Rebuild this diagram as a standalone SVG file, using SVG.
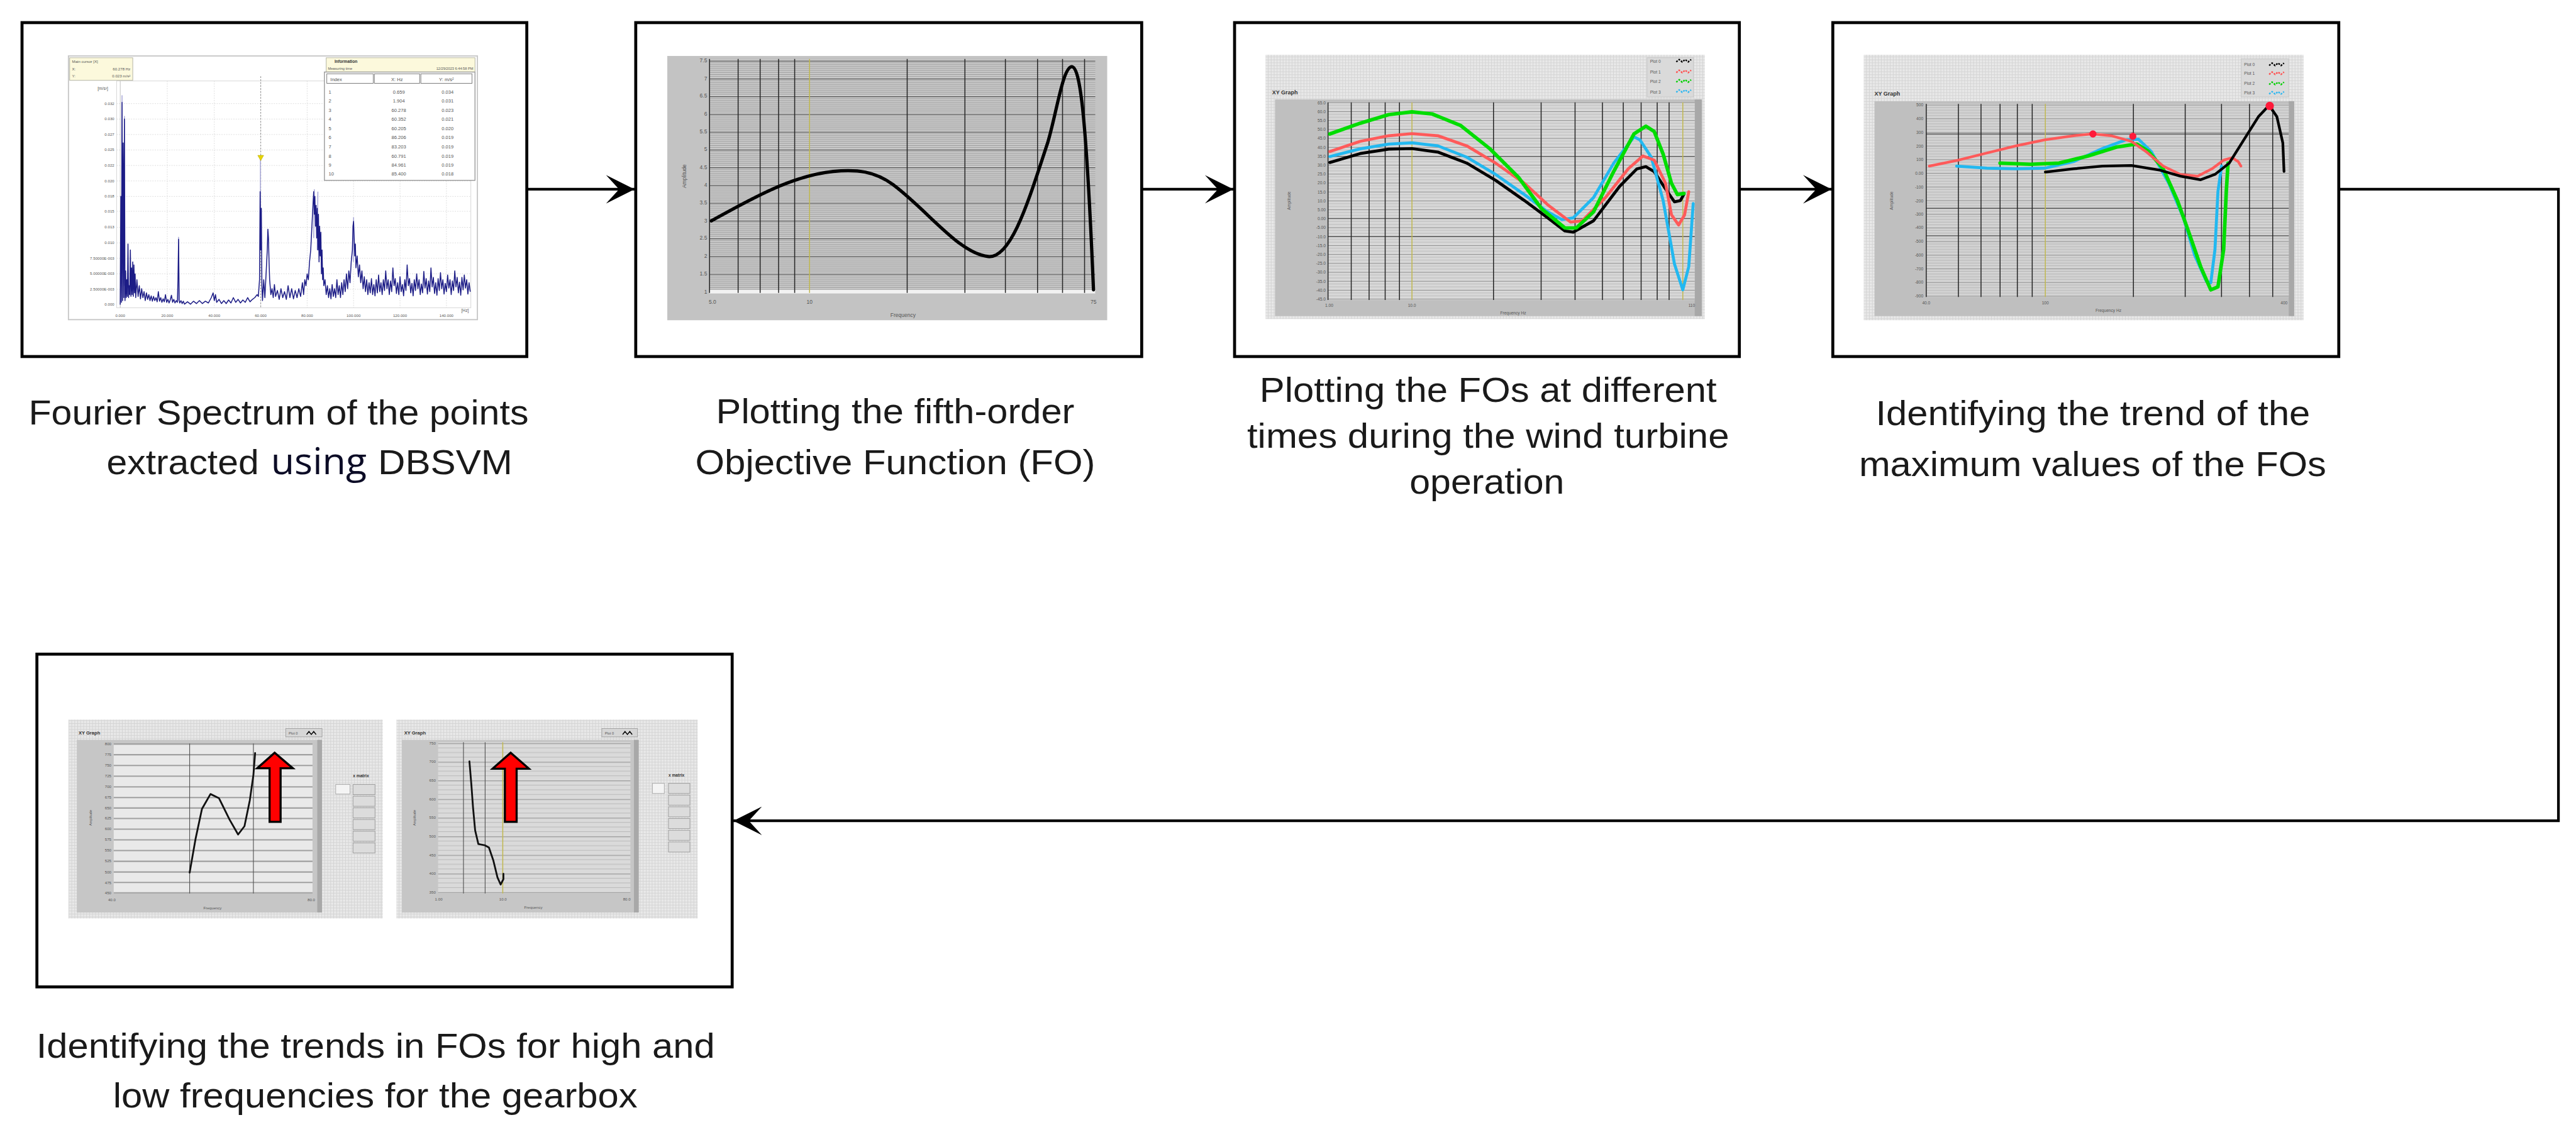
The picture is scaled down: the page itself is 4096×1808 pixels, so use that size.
<svg xmlns="http://www.w3.org/2000/svg" width="4096" height="1808" viewBox="0 0 4096 1808">
<defs>
<style>
.box{fill:#fff;stroke:#000;stroke-width:5}
.conn{fill:none;stroke:#000;stroke-width:4.5}
.lbl{font-family:"Liberation Sans",Arial,Helvetica,sans-serif;font-size:59px;fill:#1a1a1a}
.tn{font-family:"Liberation Sans",Arial,sans-serif;fill:#555}
.tb{font-family:"Liberation Sans",Arial,sans-serif;fill:#333;font-weight:bold}
.vg{stroke:#262626;stroke-width:1.6}
.vy{stroke:#c0b850;stroke-width:1.6}
.hd{stroke:#555;stroke-width:1.4}
.fo{fill:none;stroke-linejoin:round;stroke-linecap:round}
.cell{fill:#dcdcdc;stroke:#9a9a9a;stroke-width:1}
.red{fill:#ff0000;stroke:#000;stroke-width:3.5;stroke-linejoin:miter}
</style>
<marker id="ah" markerUnits="userSpaceOnUse" markerWidth="50" markerHeight="48" viewBox="0 0 50 48" refX="48" refY="24" orient="auto">
<path d="M0,0 L48,24 L0,48 L22,24 Z" fill="#000"/>
</marker>
<pattern id="lv" width="5" height="5" patternUnits="userSpaceOnUse">
<rect width="5" height="5" fill="#e8e8e8"/><path d="M0,0.5H5M0.5,0V5" stroke="#d4d4d4" stroke-width="1"/>
</pattern>
<pattern id="p2" x="0" y="102" width="20" height="29.85" patternUnits="userSpaceOnUse">
<rect width="20" height="29.85" fill="#cbcbcb"/>
<path d="M0,3.3H20M0,6.6H20M0,10H20M0,13.3H20M0,16.6H20M0,19.9H20M0,23.2H20M0,26.5H20" stroke="#929292" stroke-width="0.9"/>
<path d="M0,0.6H20" stroke="#4e4e4e" stroke-width="1.3"/>
</pattern>
<pattern id="p3" x="0" y="172" width="20" height="15" patternUnits="userSpaceOnUse">
<rect width="20" height="15" fill="#d8d8d8"/>
<path d="M0,5H20M0,10H20" stroke="#b4b4b4" stroke-width="0.9"/>
<path d="M0,0.5H20" stroke="#888" stroke-width="1"/>
</pattern>
<pattern id="p4" x="0" y="176" width="20" height="22.93" patternUnits="userSpaceOnUse">
<rect width="20" height="22.93" fill="#d3d3d3"/>
<path d="M0,4.6H20M0,9.2H20M0,13.8H20M0,18.3H20" stroke="#b0b0b0" stroke-width="0.9"/>
<path d="M0,0.5H20" stroke="#888" stroke-width="1"/>
</pattern>
<pattern id="p5" x="0" y="1248.6" width="20" height="31.3" patternUnits="userSpaceOnUse">
<rect width="20" height="31.3" fill="#dadada"/>
<path d="M0,7.8H20M0,15.6H20M0,23.5H20" stroke="#b9b9b9" stroke-width="1.2"/>
<path d="M0,0.6H20" stroke="#999" stroke-width="1.4"/>
</pattern>
</defs>
<rect x="0" y="0" width="4096" height="1808" fill="#fff"/>
<g transform="scale(0.9465)">

<!-- ============ NODE 1 ============ -->
<g id="node-1">
<rect class="box" x="37" y="38" width="848" height="561"/>
<g id="chart-1">
<rect x="115" y="94" width="687" height="443" fill="#fff" stroke="#c8c8c8" stroke-width="2"/>
<rect x="196" y="136" width="595" height="381" fill="#fff" stroke="#d6d6d6" stroke-width="1"/>
<g stroke="#dcdcdc" stroke-width="1" stroke-dasharray="2,2">
<path d="M281,136V517M360,136V517M516,136V517M594,136V517M672,136V517M750,136V517"/>
<path d="M196,174H791M196,200H791M196,226H791M196,252H791M196,278H791M196,304H791M196,330H791M196,355H791M196,382H791M196,408H791M196,434H791M196,460H791M196,486H791"/>
</g>
<path d="M202,136V517" stroke="#bbb" stroke-width="1"/>
<path d="M438,128V517" stroke="#999" stroke-width="1.2" stroke-dasharray="3,2"/>
<path d="M205,500L205,160M209,480L209,195M437.5,420L437.5,262M300,505L300,398M594,440L594,365M527,400L528,318M533,420L534,322" stroke="#a8a8d8" stroke-width="1.6" fill="none"/>
<path fill="none" stroke="#1c1c86" stroke-width="1.6" stroke-linejoin="round" d="M202,512 L203,330 L204,508 L205,172 L206,505 L207,240 L208,500 L209,200 L210,505 L211,455 L212,500 L213,470 L214,498 L215,410 L216,500 L217,480 L218,495 L219,420 L220,498 L221,450 L222,495 L223,440 L224,498 L225,445 L226,492 L227,460 L228,500 L230,470 L232,498 L234,480 L236,502 L238,485 L240,500 L242,490 L244,505 L246,492 L248,503 L250,495 L252,505 L254,497 L256,506 L258,498 L260,505 L262,500 L264,507 L266,490 L268,506 L270,500 L272,508 L274,502 L276,507 L278,495 L280,508 L282,503 L284,509 L286,504 L288,496 L290,508 L292,503 L294,509 L296,505 L298,508 L299,470 L300,402 L301,505 L302,509 L304,505 L306,510 L308,506 L310,511 L315,507 L320,511 L325,506 L330,510 L335,505 L340,510 L345,506 L350,509 L355,500 L358,492 L360,505 L362,495 L364,508 L368,503 L372,510 L376,505 L380,510 L384,504 L388,509 L392,500 L396,508 L400,503 L404,509 L408,504 L412,508 L416,500 L420,507 L424,503 L428,500 L432,495 L434,498 L436,470 L437,322 L438,420 L439,350 L440,480 L441,505 L443,470 L445,500 L447,460 L449,420 L450,385 L451,400 L452,440 L453,470 L455,495 L457,485 L459,500 L461,478 L463,498 L466,488 L469,503 L472,485 L475,500 L478,490 L481,503 L484,480 L487,500 L490,485 L493,502 L496,488 L499,500 L502,485 L505,498 L508,475 L510,495 L512,470 L514,480 L516,460 L518,470 L520,440 L522,420 L524,380 L526,340 L527,322 L528,360 L529,330 L530,380 L531,345 L532,400 L533,350 L534,420 L535,360 L536,440 L537,380 L538,430 L539,390 L540,460 L541,420 L542,470 L543,450 L544,480 L546,470 L548,495 L550,480 L552,500 L554,485 L556,502 L558,478 L560,498 L562,485 L564,500 L566,470 L568,495 L570,480 L572,500 L574,475 L576,495 L578,470 L580,490 L582,460 L584,485 L586,455 L588,475 L590,440 L592,420 L593,380 L594,372 L595,400 L596,430 L597,410 L598,450 L600,430 L602,465 L604,445 L606,475 L608,455 L610,485 L612,465 L614,490 L616,470 L618,495 L620,475 L622,492 L624,468 L626,495 L628,478 L630,497 L632,470 L634,492 L636,462 L638,490 L640,475 L642,495 L644,470 L646,488 L648,455 L650,485 L652,470 L654,495 L656,472 L658,490 L660,450 L662,480 L664,468 L666,493 L668,475 L670,495 L672,465 L674,490 L676,478 L678,497 L680,470 L682,488 L684,445 L686,480 L688,468 L690,492 L692,476 L694,497 L696,470 L698,488 L700,460 L702,485 L704,470 L706,495 L708,477 L710,492 L712,456 L714,484 L716,468 L718,494 L720,472 L722,490 L724,450 L726,482 L728,466 L730,493 L732,475 L734,496 L736,468 L738,488 L740,458 L742,485 L744,470 L746,494 L748,476 L750,490 L752,462 L754,484 L756,470 L758,495 L760,472 L762,488 L764,455 L766,482 L768,466 L770,492 L772,474 L774,496 L776,466 L778,487 L780,462 L782,484 L784,470 L786,494 L788,475 L790,490"/>
<polygon points="433,261 443,261 438,270" fill="#e6d400" stroke="#b8a800" stroke-width="0.6"/>
<g class="tn" font-size="6.5" text-anchor="end">
<text x="192" y="176">0.032</text><text x="192" y="202">0.030</text><text x="192" y="228">0.027</text><text x="192" y="254">0.025</text><text x="192" y="280">0.022</text><text x="192" y="306">0.020</text><text x="192" y="332">0.018</text><text x="192" y="357">0.015</text><text x="192" y="384">0.013</text><text x="192" y="410">0.010</text><text x="192" y="436">7.50000E-003</text><text x="192" y="462">5.00000E-003</text><text x="192" y="488">2.50000E-003</text><text x="192" y="514">0.000</text>
</g>
<text class="tn" font-size="7" x="164" y="151">[m/s²]</text>
<g class="tn" font-size="6.5" text-anchor="middle">
<text x="202" y="533">0.000</text><text x="281" y="533">20.000</text><text x="360" y="533">40.000</text><text x="438" y="533">60.000</text><text x="516" y="533">80.000</text><text x="594" y="533">100.000</text><text x="672" y="533">120.000</text><text x="750" y="533">140.000</text>
</g>
<text class="tn" font-size="7" x="775" y="524">[Hz]</text>
<rect x="117" y="97" width="106" height="38" fill="#fcf9dc" stroke="#b0b0a0" stroke-width="1"/>
<g class="tn" font-size="6.5" fill="#444">
<text x="121" y="106">Main cursor [X]</text>
<text x="121" y="118">X:</text><text x="219" y="118" text-anchor="end">60.278 Hz</text>
<text x="121" y="130">Y:</text><text x="219" y="130" text-anchor="end">0.023 m/s²</text>
</g>
<rect x="548" y="97" width="250" height="24" fill="#fcf9dc" stroke="#b0b0a0" stroke-width="1"/>
<text class="tb" font-size="7" x="562" y="106">Information</text>
<text class="tn" font-size="6" x="551" y="117">Measuring time</text>
<text class="tn" font-size="6" x="795" y="117" text-anchor="end">12/29/2023 6:44:58 PM</text>
<rect x="545" y="121" width="253" height="182" fill="#fff" stroke="#9a9a9a" stroke-width="1.5"/>
<g fill="#fff" stroke="#777" stroke-width="1">
<rect x="549" y="124" width="78" height="16"/><rect x="629" y="124" width="76" height="16"/><rect x="707" y="124" width="86" height="16"/>
</g>
<g class="tn" font-size="8" fill="#333">
<text x="555" y="136">Index</text><text x="667" y="136" text-anchor="middle">X: Hz</text><text x="750" y="136" text-anchor="middle">Y: m/s²</text>
</g>
<g class="tn" font-size="8" fill="#333">
<text x="552" y="157">1</text><text x="552" y="172">2</text><text x="552" y="188">3</text><text x="552" y="203">4</text><text x="552" y="219">5</text><text x="552" y="234">6</text><text x="552" y="249">7</text><text x="552" y="265">8</text><text x="552" y="280">9</text><text x="552" y="295">10</text>
</g>
<g class="tn" font-size="8" fill="#333" text-anchor="middle">
<text x="670" y="157">0.659</text><text x="670" y="172">1.904</text><text x="670" y="188">60.278</text><text x="670" y="203">60.352</text><text x="670" y="219">60.205</text><text x="670" y="234">86.206</text><text x="670" y="249">83.203</text><text x="670" y="265">60.791</text><text x="670" y="280">84.961</text><text x="670" y="295">85.400</text>
<text x="752" y="157">0.034</text><text x="752" y="172">0.031</text><text x="752" y="188">0.023</text><text x="752" y="203">0.021</text><text x="752" y="219">0.020</text><text x="752" y="234">0.019</text><text x="752" y="249">0.019</text><text x="752" y="265">0.019</text><text x="752" y="280">0.019</text><text x="752" y="295">0.018</text>
</g>
</g>
<text class="lbl" x="48" y="713" textLength="840" lengthAdjust="spacingAndGlyphs">Fourier Spectrum of the points</text>
<text class="lbl" x="179" y="797" textLength="256" lengthAdjust="spacingAndGlyphs">extracted</text>
<text x="455" y="797" textLength="161" lengthAdjust="spacingAndGlyphs" style="font-family:'Open Sans',Lato,sans-serif;font-size:62px;fill:#0c0c26">using</text>
<text class="lbl" x="635" y="797" textLength="226" lengthAdjust="spacingAndGlyphs">DBSVM</text>
</g>

<!-- ============ NODE 2 ============ -->
<g id="node-2">
<rect class="box" x="1068" y="38" width="850" height="561"/>
<g id="chart-2">
<rect x="1121" y="94" width="739" height="444" fill="#c3c3c3"/>
<rect x="1192" y="99" width="648" height="393" fill="url(#p2)"/>
<rect x="1192" y="487" width="648" height="6" fill="#f2f2f2"/>
<path class="vg" d="M1192,99V492M1240,99V492M1277,99V492M1308,99V492M1335,99V492M1524,99V492M1621,99V492M1689,99V492M1743,99V492M1785,99V492M1822,99V492"/>
<path class="vy" d="M1360,99V492"/>
<g class="tn" font-size="9" text-anchor="end" fill="#555">
<text x="1188" y="105">7.5</text><text x="1188" y="135">7</text><text x="1188" y="164">6.5</text><text x="1188" y="194">6</text><text x="1188" y="224">5.5</text><text x="1188" y="254">5</text><text x="1188" y="284">4.5</text><text x="1188" y="314">4</text><text x="1188" y="343">3.5</text><text x="1188" y="374">3</text><text x="1188" y="403">2.5</text><text x="1188" y="433">2</text><text x="1188" y="463">1.5</text><text x="1188" y="493">1</text>
</g>
<text class="tn" font-size="9" fill="#56648a" text-anchor="middle" transform="rotate(-90 1153 296)" x="1153" y="296">Amplitude</text>
<g class="tn" font-size="9" text-anchor="middle">
<text x="1197" y="510">5.0</text><text x="1360" y="510">10</text><text x="1837" y="510">75</text>
<text x="1517" y="532">Frequency</text>
</g>
<path class="fo" stroke="#000" stroke-width="5.5" d="M1195,371 C1260,335 1330,295 1400,288 C1440,284 1470,288 1500,310 C1560,355 1610,425 1660,431 C1700,435 1730,330 1760,240 C1775,190 1785,115 1800,112 C1815,110 1825,200 1837,487"/>
</g>
<text class="lbl" x="1203" y="711" textLength="602" lengthAdjust="spacingAndGlyphs">Plotting the fifth-order</text>
<text class="lbl" x="1168" y="797" textLength="672" lengthAdjust="spacingAndGlyphs">Objective Function (FO)</text>
</g>

<!-- ============ NODE 3 ============ -->
<g id="node-3">
<rect class="box" x="2074" y="38" width="848" height="561"/>
<g id="chart-3">
<rect x="2126" y="92" width="738" height="444" fill="url(#lv)"/>
<text class="tb" font-size="9.5" x="2137" y="158">XY Graph</text>
<rect x="2767" y="97" width="78" height="66" fill="#dadada" stroke="#c6c6c6" stroke-width="1"/>
<g class="tn" font-size="7" fill="#777">
<text x="2772" y="106">Plot 0</text><text x="2772" y="124">Plot 1</text><text x="2772" y="140">Plot 2</text><text x="2772" y="157">Plot 3</text>
</g>
<g fill="none" stroke-width="2.5" stroke-dasharray="3,2">
<path d="M2816,104l5,-4l5,4l5,-4l5,4l5,-4" stroke="#000"/>
<path d="M2816,122l5,-4l5,4l5,-4l5,4l5,-4" stroke="#ff5050"/>
<path d="M2816,138l5,-4l5,4l5,-4l5,4l5,-4" stroke="#00d000"/>
<path d="M2816,155l5,-4l5,4l5,-4l5,4l5,-4" stroke="#30b8f0"/>
</g>
<rect x="2142" y="167" width="717" height="364" fill="#bfbfbf"/>
<rect x="2847" y="167" width="12" height="364" fill="#a8a8a8"/>
<rect x="2231" y="172" width="616" height="332" fill="url(#p3)"/>
<path class="hd" d="M2231,263H2847M2231,367H2847M2231,397.5H2847"/>
<path class="vg" d="M2231,172V504M2270,172V504M2300,172V504M2327,172V504M2351,172V504M2509,172V504M2589,172V504M2646,172V504M2692,172V504M2727,172V504M2757,172V504M2784,172V504M2804,172V504"/>
<path class="vy" d="M2372,172V504M2827,172V504"/>
<g class="tn" font-size="7" text-anchor="end">
<text x="2227" y="175">65.0</text><text x="2227" y="190">60.0</text><text x="2227" y="205">55.0</text><text x="2227" y="220">50.0</text><text x="2227" y="235">45.0</text><text x="2227" y="250">40.0</text><text x="2227" y="265">35.0</text><text x="2227" y="280">30.0</text><text x="2227" y="295">25.0</text><text x="2227" y="310">20.0</text><text x="2227" y="325">15.0</text><text x="2227" y="340">10.0</text><text x="2227" y="355">5.00</text><text x="2227" y="370">0.00</text><text x="2227" y="385">-5.00</text><text x="2227" y="400">-10.0</text><text x="2227" y="415">-15.0</text><text x="2227" y="430">-20.0</text><text x="2227" y="445">-25.0</text><text x="2227" y="460">-30.0</text><text x="2227" y="475">-35.0</text><text x="2227" y="490">-40.0</text><text x="2227" y="505">-45.0</text>
</g>
<text class="tn" font-size="7" fill="#666" text-anchor="middle" transform="rotate(-90 2168 337)" x="2168" y="337">Amplitude</text>
<g class="tn" font-size="7" text-anchor="middle">
<text x="2233" y="516">1.00</text><text x="2372" y="516">10.0</text><text x="2842" y="516">110</text>
<text x="2542" y="528">Frequency Hz</text>
</g>
<polyline class="fo" stroke="#000" stroke-width="5" points="2234,273 2285,258 2333,250.6 2372,249.6 2415.5,255.5 2464,274 2512.5,303 2561,337 2600,366 2629,388 2643,390 2677,371 2721,313 2750,283.6 2765,280 2779,288.4 2798,317.5 2813,339 2823,337 2829,326"/>
<polyline class="fo" stroke="#22b8f0" stroke-width="5" points="2234,263 2285,250 2333,242 2372,240 2415.5,245 2464,264 2512.5,293 2561,327 2600,356 2624,369 2643,366 2677,332 2711,274 2745,230 2755,235 2774,264 2794,337 2813,443.5 2827,487 2837,448 2844.5,342"/>
<polyline class="fo" stroke="#ff5a5a" stroke-width="5" points="2234,254.5 2285,237.5 2333,228 2372,224.5 2415.5,228 2464,245 2512.5,274 2561,308 2600,344 2638.5,373 2658,371 2697,332 2735.5,283.5 2760,262 2779,269 2798,308 2808,361 2820,378 2830,361 2837,322"/>
<polyline class="fo" stroke="#00dd00" stroke-width="6" points="2234,225 2285,207 2333,192.5 2372,188 2406,191.5 2454,211 2503,250 2551,298 2590,351 2629,383 2648,383 2677,356 2711,288 2745,225 2765,212 2779,221 2794,259 2808,308 2818,327 2829,325"/>
</g>
<text class="lbl" x="2116" y="675" textLength="768" lengthAdjust="spacingAndGlyphs">Plotting the FOs at different</text>
<text class="lbl" x="2095" y="752" textLength="810" lengthAdjust="spacingAndGlyphs">times during the wind turbine</text>
<text class="lbl" x="2368" y="829" textLength="260" lengthAdjust="spacingAndGlyphs">operation</text>
</g>

<!-- ============ NODE 4 ============ -->
<g id="node-4">
<rect class="box" x="3079" y="38" width="850" height="561"/>
<g id="chart-4">
<rect x="3131" y="92" width="739" height="446" fill="url(#lv)"/>
<text class="tb" font-size="9.5" x="3149" y="161">XY Graph</text>
<rect x="3765" y="99" width="80" height="64" fill="#dadada" stroke="#c6c6c6" stroke-width="1"/>
<g class="tn" font-size="7" fill="#777">
<text x="3770" y="111">Plot 0</text><text x="3770" y="126">Plot 1</text><text x="3770" y="143">Plot 2</text><text x="3770" y="159">Plot 3</text>
</g>
<g fill="none" stroke-width="2.5" stroke-dasharray="3,2">
<path d="M3812,110l5,-4l5,4l5,-4l5,4l5,-4" stroke="#000"/>
<path d="M3812,125l5,-4l5,4l5,-4l5,4l5,-4" stroke="#ff5050"/>
<path d="M3812,142l5,-4l5,4l5,-4l5,4l5,-4" stroke="#00d000"/>
<path d="M3812,158l5,-4l5,4l5,-4l5,4l5,-4" stroke="#30b8f0"/>
</g>
<rect x="3149" y="170" width="705" height="361" fill="#bfbfbf"/>
<rect x="3845" y="170" width="9" height="361" fill="#a8a8a8"/>
<rect x="3236" y="174.5" width="609" height="324.5" fill="url(#p4)"/>
<path class="hd" d="M3236,225H3845M3236,350H3845M3236,396H3845"/>
<path class="vg" d="M3236,174.5V499M3290,174.5V499M3328,174.5V499M3360,174.5V499M3389,174.5V499M3414,174.5V499M3584,174.5V499M3671,174.5V499M3732,174.5V499M3779,174.5V499M3818,174.5V499"/>
<path class="vy" d="M3436,174.5V499"/>
<g class="tn" font-size="7" text-anchor="end">
<text x="3231" y="179">500</text><text x="3231" y="202">400</text><text x="3231" y="225">300</text><text x="3231" y="248">200</text><text x="3231" y="271">100</text><text x="3231" y="294">0.00</text><text x="3231" y="317">-100</text><text x="3231" y="340">-200</text><text x="3231" y="362">-300</text><text x="3231" y="385">-400</text><text x="3231" y="408">-500</text><text x="3231" y="431">-600</text><text x="3231" y="454">-700</text><text x="3231" y="477">-800</text><text x="3231" y="500">-900</text>
</g>
<text class="tn" font-size="7" fill="#666" text-anchor="middle" transform="rotate(-90 3180 337)" x="3180" y="337">Amplitude</text>
<g class="tn" font-size="7" text-anchor="middle">
<text x="3236" y="511">40.0</text><text x="3436" y="511">100</text><text x="3837" y="511">400</text>
<text x="3542" y="524">Frequency Hz</text>
</g>
<polyline class="fo" stroke="#22b8f0" stroke-width="5" points="3287,279 3338,282.6 3387,283.6 3435,282.6 3483.5,271.5 3532,249.6 3571,235 3592.6,234 3614,254.5 3643.5,308 3668,366 3687,429 3706.5,472.6 3714,475 3721,419 3726,322 3732,279"/>
<polyline class="fo" stroke="#00dd00" stroke-width="6" points="3360,274 3411,276 3459,274 3508,262 3556,247 3590,242 3609.5,254.5 3634,283.6 3658,337 3677,390 3697,448 3714,487 3726,482 3735.6,419 3740,322 3743,274"/>
<polyline class="fo" stroke="#ff5a5a" stroke-width="4.5" points="3241,279 3290,269 3338,257 3387,245 3435,235 3483.5,228 3515,225 3546.5,228 3580.5,237.5 3605,254.5 3634,279 3663,293 3692,296 3716,283.6 3735.6,269 3750,265 3760,271.5 3764.6,279"/>
<polyline class="fo" stroke="#000" stroke-width="4.5" points="3436,289 3483.5,283.6 3532,279 3580.5,278 3629,286 3663,296 3697,302 3721,293 3745,274 3769.5,235 3794,196 3812,177 3825,196 3835,240 3837,288"/>
<g fill="#ff1a3a">
<circle cx="3516" cy="225" r="6"/><circle cx="3583" cy="229" r="6"/><circle cx="3813" cy="178" r="7"/>
</g>
</g>
<text class="lbl" x="3151" y="714" textLength="730" lengthAdjust="spacingAndGlyphs">Identifying the trend of the</text>
<text class="lbl" x="3123" y="800" textLength="785" lengthAdjust="spacingAndGlyphs">maximum values of the FOs</text>
</g>

<!-- ============ NODE 5 ============ -->
<g id="node-5">
<rect class="box" x="62" y="1099" width="1168" height="559"/>
<g id="chart-5a">
<rect x="115" y="1209" width="528" height="334" fill="url(#lv)"/>
<text class="tb" font-size="8" x="132" y="1234">XY Graph</text>
<rect x="480" y="1224" width="61" height="14" fill="#d6d6d6" stroke="#a0a0a0" stroke-width="1"/>
<text class="tn" font-size="6" x="485" y="1234">Plot 0</text>
<path d="M515,1234l4,-5l4,5l4,-5l4,5" fill="none" stroke="#000" stroke-width="1.5"/>
<rect x="129" y="1243" width="412" height="290" fill="#c6c6c6"/>
<rect x="533" y="1243" width="8" height="290" fill="#a8a8a8"/>
<rect x="191" y="1249" width="334" height="252" fill="#e9e9e9"/>
<path stroke="#a0a0a0" stroke-width="2.2" d="M191,1250H525M191,1268H525M191,1286H525M191,1304H525M191,1322H525M191,1340H525M191,1357.5H525M191,1375H525M191,1393H525M191,1411H525M191,1429H525M191,1447H525M191,1465H525M191,1482.5H525M191,1500H525"/>
<path stroke="#555" stroke-width="1.2" d="M318.6,1249V1501M425.7,1249V1501"/>
<g class="tn" font-size="6.5" text-anchor="end">
<text x="187" y="1252">800</text><text x="187" y="1270">775</text><text x="187" y="1288">750</text><text x="187" y="1306">725</text><text x="187" y="1324">700</text><text x="187" y="1342">675</text><text x="187" y="1360">650</text><text x="187" y="1377">625</text><text x="187" y="1395">600</text><text x="187" y="1413">575</text><text x="187" y="1431">550</text><text x="187" y="1449">525</text><text x="187" y="1467">500</text><text x="187" y="1485">475</text><text x="187" y="1502">450</text>
</g>
<text class="tn" font-size="6" fill="#666" text-anchor="middle" transform="rotate(-90 154 1374)" x="154" y="1374">Amplitude</text>
<g class="tn" font-size="6.5" text-anchor="middle">
<text x="188" y="1514">40.0</text><text x="523" y="1514">80.0</text><text x="357" y="1528">Frequency</text>
</g>
<polyline class="fo" stroke="#111" stroke-width="3" points="318.6,1466 328.6,1409 339.3,1359 353.6,1334 367.9,1341 385.7,1377 400,1402 410.7,1388 419.6,1345 425.7,1302 428.6,1265"/>
<polygon class="red" points="461.4,1264.6 492,1290.7 471.4,1290.7 471.4,1380.7 452.9,1380.7 452.9,1290.7 432,1290.7"/>
<text class="tb" font-size="7" x="593" y="1306">x matrix</text>
<rect x="564" y="1318" width="24" height="16" fill="#f4f4f4" stroke="#aaa" stroke-width="1"/>
<rect class="cell" x="593" y="1318" width="37" height="17"/><rect class="cell" x="593" y="1337.6" width="37" height="17"/><rect class="cell" x="593" y="1357.2" width="37" height="17"/><rect class="cell" x="593" y="1376.8" width="37" height="17"/><rect class="cell" x="593" y="1396.4" width="37" height="17"/><rect class="cell" x="593" y="1416" width="37" height="17"/>
</g>
<g id="chart-5b">
<rect x="666" y="1209" width="506" height="334" fill="url(#lv)"/>
<text class="tb" font-size="8" x="679" y="1234">XY Graph</text>
<rect x="1011" y="1224" width="60" height="14" fill="#d6d6d6" stroke="#a0a0a0" stroke-width="1"/>
<text class="tn" font-size="6" x="1016" y="1234">Plot 0</text>
<path d="M1046,1234l4,-5l4,5l4,-5l4,5" fill="none" stroke="#000" stroke-width="1.5"/>
<rect x="675" y="1243" width="398" height="290" fill="#c6c6c6"/>
<rect x="1065" y="1243" width="8" height="290" fill="#a8a8a8"/>
<rect x="736" y="1247" width="323" height="254" fill="url(#p5)"/>
<path stroke="#555" stroke-width="1.2" d="M778.6,1247V1501M815,1247V1501"/>
<path class="vy" d="M844.6,1247V1501"/>
<g class="tn" font-size="6.5" text-anchor="end">
<text x="732" y="1251">750</text><text x="732" y="1282">700</text><text x="732" y="1313">650</text><text x="732" y="1345">600</text><text x="732" y="1376">550</text><text x="732" y="1407">500</text><text x="732" y="1439">450</text><text x="732" y="1470">400</text><text x="732" y="1501">350</text>
</g>
<text class="tn" font-size="6" fill="#666" text-anchor="middle" transform="rotate(-90 698 1374)" x="698" y="1374">Amplitude</text>
<g class="tn" font-size="6.5" text-anchor="middle">
<text x="737" y="1513">1.00</text><text x="845" y="1513">10.0</text><text x="1053" y="1513">80.0</text><text x="896" y="1527">Frequency</text>
</g>
<polyline class="fo" stroke="#111" stroke-width="3" points="788.6,1279 792,1320 794.6,1356 798.2,1395 803.6,1418 814.3,1420 821.4,1424 828.6,1445 835.7,1474 841,1486 845.7,1477 845.7,1468"/>
<polygon class="red" points="857.9,1264.6 888.6,1291.4 867.9,1291.4 867.9,1380.7 848.2,1380.7 848.2,1291.4 827.5,1291.4"/>
<text class="tb" font-size="7" x="1123" y="1305">x matrix</text>
<rect x="1096" y="1316" width="20" height="17" fill="#f4f4f4" stroke="#aaa" stroke-width="1"/>
<rect class="cell" x="1123" y="1316" width="36" height="17"/><rect class="cell" x="1123" y="1335.7" width="36" height="17"/><rect class="cell" x="1123" y="1355.4" width="36" height="17"/><rect class="cell" x="1123" y="1375.1" width="36" height="17"/><rect class="cell" x="1123" y="1394.8" width="36" height="17"/><rect class="cell" x="1123" y="1414.5" width="36" height="17"/>
</g>
<text class="lbl" x="61" y="1777" textLength="1140" lengthAdjust="spacingAndGlyphs">Identifying the trends in FOs for high and</text>
<text class="lbl" x="190" y="1861" textLength="881" lengthAdjust="spacingAndGlyphs">low frequencies for the gearbox</text>
</g>

<!-- ============ CONNECTORS ============ -->
<g id="connectors">
<path class="conn" d="M885,318 H1066" marker-end="url(#ah)"/>
<path class="conn" d="M1918,318 H2072" marker-end="url(#ah)"/>
<path class="conn" d="M2922,318 H3077" marker-end="url(#ah)"/>
<path class="conn" d="M3929,318 H4298 V1379 H1232" marker-end="url(#ah)"/>
</g>
</g>
</svg>
